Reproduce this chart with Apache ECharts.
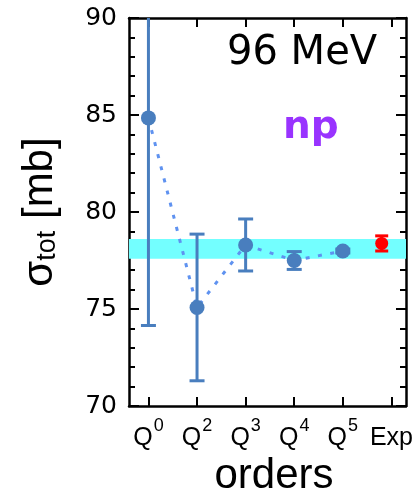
<!DOCTYPE html>
<html>
<head>
<meta charset="utf-8">
<script src="https://cdn.jsdelivr.net/npm/echarts@6/dist/echarts.min.js"></script>
<style>html,body{margin:0;padding:0;background:#fff}#c{width:420px;height:496px}</style>
</head>
<body>
<div id="c"></div>
<script>
// ---- data ----
const orderBase = ['Q', 'Q', 'Q', 'Q', 'Q', 'Exp'];
const orderSup = ['0', '2', '3', '4', '5', ''];
const tickPos = [1, 2, 3, 4, 5, 6];
const qPos = [1, 2, 3, 4, 5];
const qValues = [84.85, 75.08, 78.30, 77.50, 77.99];
const qErrors = [10.7, 3.78, 1.34, 0.46, 0.1];
const expPos = [5.8];
const expValues = [78.38];
const expErrors = [0.39];
const bandRange = [77.59, 78.61];
const yTicks = [70, 75, 80, 85, 90];

const BLUE = '#497ebe';
const DOT = '#5f92f0';
const RED = '#ff0000';

function errData(pos, vals, errs) {
  return pos.map((p, i) => [p, vals[i] - errs[i], vals[i] + errs[i]]);
}
function errRender(color, capW) {
  return function (params, api) {
    const x = api.value(0);
    const lo = api.coord([x, api.value(1)]);
    const hi = api.coord([x, api.value(2)]);
    const st = { stroke: color, lineWidth: 3 };
    return {
      type: 'group',
      children: [
        { type: 'line', shape: { x1: lo[0], y1: lo[1], x2: hi[0], y2: hi[1] }, style: st },
        { type: 'line', shape: { x1: lo[0] - capW / 2, y1: lo[1], x2: lo[0] + capW / 2, y2: lo[1] }, style: st },
        { type: 'line', shape: { x1: hi[0] - capW / 2, y1: hi[1], x2: hi[0] + capW / 2, y2: hi[1] }, style: st }
      ]
    };
  };
}

const chart = echarts.init(document.getElementById('c'), null, { renderer: 'canvas' });
const axisLine = { show: true, onZero: false, lineStyle: { color: '#000', width: 2.5 } };
const xCommon = {
  type: 'value', min: 0.6, max: 6.3,
  axisLine: axisLine,
  splitLine: { show: false },
  axisTick: { show: true, inside: true, length: 9, customValues: tickPos, lineStyle: { color: '#000', width: 2 } }
};
const yCommon = {
  type: 'value', min: 70, max: 90, interval: 5,
  axisLine: axisLine,
  splitLine: { show: false },
  axisTick: { show: true, inside: true, length: 10, lineStyle: { color: '#000', width: 2 } },
  minorTick: { show: true, splitNumber: 5, length: 6, lineStyle: { color: '#000', width: 2 } }
};

chart.setOption({
  animation: false,
  backgroundColor: '#fff',
  grid: { left: 129, right: 14, top: 18, bottom: 90, containLabel: false },
  xAxis: [
    Object.assign({}, xCommon, {
      position: 'bottom',
      axisLabel: {
        show: true, margin: 11, customValues: tickPos, verticalAlign: 'top',
        formatter: function (v) {
          const i = tickPos.indexOf(Math.round(v));
          if (i < 0) return '';
          return orderSup[i] ? '{q|' + orderBase[i] + '}{s|' + orderSup[i] + '}' : '{e|' + orderBase[i] + '}';
        },
        rich: {
          q: { fontFamily: 'Liberation Sans', fontSize: 25, color: '#000', verticalAlign: 'bottom', padding: [9, 0, 0, 0] },
          s: { fontFamily: 'Liberation Sans', fontSize: 18, color: '#000', verticalAlign: 'top', padding: [0, 0, 0, 1] },
          e: { fontFamily: 'Liberation Sans', fontSize: 25, color: '#000', verticalAlign: 'bottom', padding: [9, 0, 0, 0] }
        }
      }
    }),
    Object.assign({}, xCommon, { position: 'top', axisLabel: { show: false } })
  ],
  yAxis: [
    Object.assign({}, yCommon, {
      position: 'left',
      axisLabel: { show: true, margin: 12, fontFamily: 'DejaVu Sans', fontSize: 25, color: '#000',
        customValues: yTicks, formatter: v => String(v) }
    }),
    Object.assign({}, yCommon, { position: 'right', axisLabel: { show: false } })
  ],
  graphic: [
    { type: 'text', left: 227, top: 34, style: { text: '96 MeV', fontFamily: 'DejaVu Sans', fontSize: 40, fill: '#000' } },
    { type: 'text', left: 283, top: 108, style: { text: 'np', fontFamily: 'DejaVu Sans', fontWeight: 'bold', fontSize: 39, fill: '#9933ff' } },
    { type: 'text', x: 274, y: 476, style: { text: 'orders', fontFamily: 'Liberation Sans', fontSize: 42, fill: '#000', align: 'center', verticalAlign: 'middle' } },
    { type: 'text', x: 40, y: 212, rotation: Math.PI / 2,
      style: { text: '{a|σ}{b|tot}{a| [mb]}', align: 'center', verticalAlign: 'middle',
        rich: {
          a: { fontFamily: 'Liberation Sans', fontSize: 42, fill: '#000', verticalAlign: 'bottom' },
          b: { fontFamily: 'Liberation Sans', fontSize: 27, fill: '#000', verticalAlign: 'bottom' }
        } } }
  ],
  series: [
    {
      type: 'line', data: [], z: 1, silent: true,
      markArea: { silent: true, itemStyle: { color: '#73ffff', opacity: 1 },
        data: [[{ yAxis: bandRange[0] }, { yAxis: bandRange[1] }]] }
    },
    {
      type: 'line', z: 2, symbol: 'none', silent: true,
      data: qPos.map((p, i) => [p, qValues[i]]),
      lineStyle: { color: DOT, width: 3, type: [4, 8.5] }
    },
    {
      type: 'custom', z: 3, clip: true, silent: true,
      data: errData(qPos, qValues, qErrors),
      renderItem: errRender(BLUE, 15)
    },
    {
      type: 'scatter', z: 4, symbol: 'circle', symbolSize: 15, silent: true,
      itemStyle: { color: BLUE, opacity: 1 },
      data: qPos.map((p, i) => [p, qValues[i]])
    },
    {
      type: 'custom', z: 3, clip: true, silent: true,
      data: errData(expPos, expValues, expErrors),
      renderItem: errRender(RED, 13)
    },
    {
      type: 'scatter', z: 4, symbol: 'circle', symbolSize: 13, silent: true,
      itemStyle: { color: RED, opacity: 1 },
      data: expPos.map((p, i) => [p, expValues[i]])
    }
  ]
});
</script>
</body>
</html>
